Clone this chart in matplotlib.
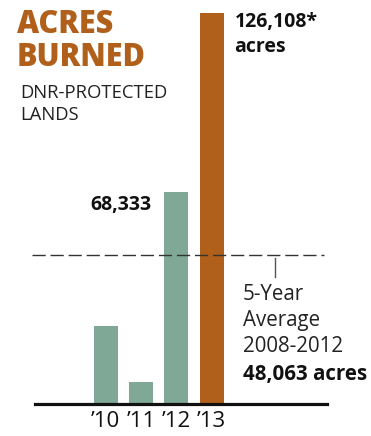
import matplotlib.pyplot as plt

years = ["\u201910", "\u201911", "\u201912", "\u201913"]
acres = [25200, 7100, 68333, 126108]
five_year_avg = 48063

green = "#7fa896"
orange = "#b0601a"

plt.rcParams['font.family'] = ['Open Sans', 'DejaVu Sans']

fig = plt.figure(figsize=(3.71, 4.36), dpi=100)
W, H = 371, 436

# axes placed in pixel terms: baseline at y=404, top of tallest bar at y=13
ax = fig.add_axes([35 / W, (H - 404) / H, (327 - 35) / W, (404 - 13) / H])
colors = [green, green, green, orange]
x = list(range(len(years)))
ax.bar(x, acres, width=0.68, color=colors, zorder=2)
ax.set_xlim(-2.0, 6.26)
ax.set_ylim(0, max(acres))

for s in ["top", "right", "left"]:
    ax.spines[s].set_visible(False)
ax.spines["bottom"].set_linewidth(2.3)
ax.spines["bottom"].set_color("#111111")
ax.set_yticks([])
ax.set_xticks(x)
ax.set_xticklabels(years, fontsize=16, color="#111111")
ax.tick_params(axis="x", length=0, pad=5)

# 5-year average dashed line
ax.axhline(five_year_avg, xmin=-0.01, xmax=0.99, color="#333333", lw=1.0,
           dashes=(9.5, 3.5), clip_on=False, zorder=3)
ax.plot([4.79, 4.79], [five_year_avg - 1000, five_year_avg - 7200],
        color="#555555", lw=1.0)

# value labels
ax.text(1.3, acres[2] - 4200, "68,333", ha="right", va="center",
        fontsize=14, fontweight="bold", color="#111111")
ax.text(3.64, acres[3] - 2900, "126,108*", ha="left", va="center",
        fontsize=14, fontweight="bold", color="#111111")
ax.text(3.64, acres[3] - 11000, "acres", ha="left", va="center",
        fontsize=14, fontweight="bold", color="#111111")

note_x = 3.88
ax.text(note_x, 35200, "5-Year", ha="left", va="center",
        fontsize=14.8, color="#222222")
ax.text(note_x, 27000, "Average", ha="left", va="center",
        fontsize=14.8, color="#222222")
ax.text(note_x, 18500, "2008-2012", ha="left", va="center",
        fontsize=14.8, color="#222222")
ax.text(note_x, 9400, "48,063 acres", ha="left", va="center",
        fontsize=14.8, fontweight="bold", color="#111111")

# title block
fig.text(17 / W, 1 - 25 / H, "ACRES", ha="left", va="center",
         fontsize=22, fontweight="heavy", color=orange)
fig.text(17 / W, 1 - 58 / H, "BURNED", ha="left", va="center",
         fontsize=22, fontweight="heavy", color=orange)
fig.text(20 / W, 1 - 93 / H, "DNR-PROTECTED", ha="left", va="center",
         fontsize=13.3, color="#222222")
fig.text(20 / W, 1 - 115 / H, "LANDS", ha="left", va="center",
         fontsize=13.3, color="#222222")

fig.savefig("out.png", dpi=100)
